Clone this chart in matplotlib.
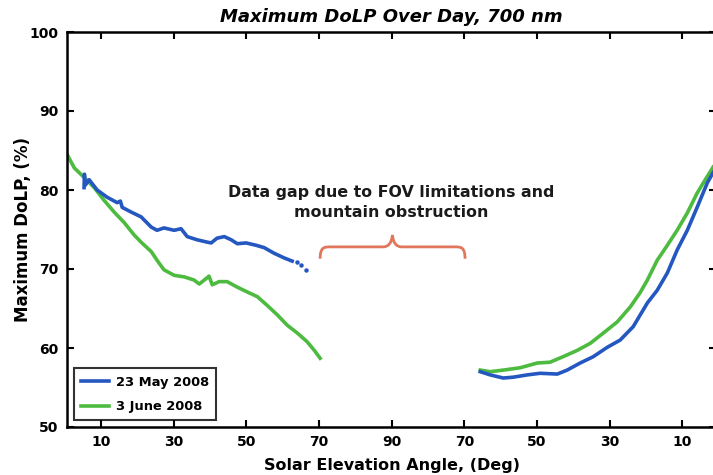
import matplotlib
matplotlib.use("Agg")
import matplotlib.pyplot as plt
from matplotlib.path import Path
from matplotlib.patches import PathPatch

plt.rcParams['font.family'] = ['DejaVu Sans']

# x positions: continuous elevation track (0..180), labels fold at 90
tick_pos = [10, 30, 50, 70, 90, 110, 130, 150, 170]
tick_labels = ['10', '30', '50', '70', '90', '70', '50', '30', '10']

# 23 May 2008 (blue)
may_am_x = [5.3, 5.4, 5.6, 6.7, 8.9, 11.6, 14.4, 15.3, 15.8, 18.3, 21.0, 23.8, 25.4, 27.3, 30.1, 32.0,
            33.7, 36.4, 39.2, 40.3, 41.9, 43.9, 45.8, 47.5, 49.9, 52.7, 54.9, 57.6, 60.4, 62.6]
may_am_y = [80.3, 82.0, 80.6, 81.3, 80.0, 79.1, 78.4, 78.6, 77.8, 77.2, 76.6, 75.3, 74.9, 75.2, 74.9, 75.1,
            74.1, 73.7, 73.4, 73.3, 73.9, 74.1, 73.7, 73.2, 73.3, 73.0, 72.7, 72.0, 71.4, 71.0]
may_dots_x = [64.0, 65.1, 66.4]
may_dots_y = [70.9, 70.5, 69.9]
may_pm_x = [114.4, 117.1, 120.7, 123.4, 127.4, 130.9, 135.6, 138.3, 141.9, 145.5, 149.4, 152.9,
            156.5, 160.4, 163.1, 165.9, 168.6, 171.4, 174.1, 176.9, 178.5]
may_pm_y = [57.0, 56.6, 56.2, 56.3, 56.6, 56.8, 56.7, 57.2, 58.1, 58.9, 60.1, 61.0,
            62.7, 65.7, 67.3, 69.5, 72.4, 74.9, 77.8, 80.9, 82.2]

# 3 June 2008 (green)
jun_am_x = [0.4, 2.6, 5.3, 8.1, 10.8, 13.6, 16.3, 19.1, 21.0, 23.8, 25.4, 27.3, 30.1, 32.9, 35.6,
            37.0, 38.4, 39.7, 40.6, 42.5, 44.7, 47.5, 50.2, 53.0, 55.7, 58.5, 61.2, 64.0, 66.7, 68.7, 70.3]
jun_am_y = [84.7, 82.8, 81.6, 80.3, 78.7, 77.2, 75.9, 74.3, 73.4, 72.2, 71.1, 69.9, 69.2, 69.0, 68.6,
            68.1, 68.6, 69.1, 68.0, 68.4, 68.4, 67.7, 67.1, 66.5, 65.4, 64.2, 62.9, 61.9, 60.8, 59.7, 58.7]
jun_pm_x = [114.4, 117.1, 120.7, 125.4, 130.1, 133.6, 137.2, 141.1, 144.7, 148.3, 152.1, 155.7,
            158.4, 160.4, 163.1, 165.9, 168.6, 171.4, 174.1, 175.8, 177.7, 178.5]
jun_pm_y = [57.2, 57.0, 57.2, 57.5, 58.1, 58.2, 58.9, 59.7, 60.6, 61.9, 63.3, 65.2,
            67.0, 68.6, 71.1, 73.0, 74.9, 77.1, 79.6, 80.9, 82.3, 82.9]

series_labels = ['23 May 2008', '3 June 2008']
blue = '#2457c0'
green = '#4dbb3f'

fig = plt.figure(figsize=(7.13, 4.75), dpi=100)
ax = fig.add_axes([67/713, 48/475, 649/713, 395/475])

ax.plot(may_am_x, may_am_y, color=blue, lw=2.6, label=series_labels[0], zorder=3)
ax.plot(may_dots_x, may_dots_y, color=blue, lw=0, marker='o', ms=2.2, zorder=3)
ax.plot(may_pm_x, may_pm_y, color=blue, lw=2.6, zorder=3)
ax.plot(jun_am_x, jun_am_y, color=green, lw=2.6, label=series_labels[1], zorder=2)
ax.plot(jun_pm_x, jun_pm_y, color=green, lw=2.6, zorder=2)

ax.set_xlim(0.6, 179.3)
ax.set_ylim(50, 100)
ax.set_xticks(tick_pos)
ax.set_xticklabels(tick_labels)
ax.set_yticks([50, 60, 70, 80, 90, 100])
ax.tick_params(direction='in', length=5, width=1.5, top=True, right=True, labelsize=10, pad=6)
for lab in ax.get_xticklabels() + ax.get_yticklabels():
    lab.set_fontweight('bold')
for s in ax.spines.values():
    s.set_linewidth(1.8)

ax.set_title('Maximum DoLP Over Day, 700 nm', fontsize=13, fontweight='bold', style='italic', pad=7)
ax.set_xlabel('Solar Elevation Angle, (Deg)', fontsize=11.5, fontweight='bold', labelpad=6)
ax.set_ylabel('Maximum DoLP, (%)', fontsize=12, fontweight='bold')
ax.yaxis.set_label_coords(-0.054, 0.5)

ax.text(90, 78.4, 'Data gap due to FOV limitations and\nmountain obstruction', ha='center', va='center',
        fontsize=11.4, fontweight='bold', linespacing=1.45, color='#1a1a1a')

# curly brace annotation
bx0, bx1, bxm = 70.3, 110.2, 90.2
by_end, by_mid, by_tip = 71.3, 72.8, 74.3
verts = [(bx0, by_end), (bx0, by_mid), (bx0 + 1.2, by_mid), (bx0 + 2.8, by_mid),
         (bxm - 2.5, by_mid), (bxm - 0.3, by_mid), (bxm, by_tip),
         (bxm + 0.3, by_mid), (bxm + 2.5, by_mid),
         (bx1 - 2.8, by_mid), (bx1 - 1.2, by_mid), (bx1, by_mid), (bx1, by_end)]
codes = [Path.MOVETO, Path.CURVE4, Path.CURVE4, Path.CURVE4,
         Path.LINETO, Path.CURVE3, Path.CURVE3, Path.CURVE3, Path.CURVE3,
         Path.LINETO, Path.CURVE4, Path.CURVE4, Path.CURVE4]
ax.add_patch(PathPatch(Path(verts, codes), fc='none', ec='#e0765c', lw=2.0, zorder=4))

leg = ax.legend(loc='lower left', bbox_to_anchor=(0.0, 0.0), frameon=True, fancybox=False,
                edgecolor='black', fontsize=9.4, handlelength=2.2, borderpad=0.55, labelspacing=0.9,
                handletextpad=0.5, borderaxespad=0.5)
leg.get_frame().set_linewidth(1.5)
for t in leg.get_texts():
    t.set_fontweight('bold')

fig.savefig('out.png', dpi=100)
